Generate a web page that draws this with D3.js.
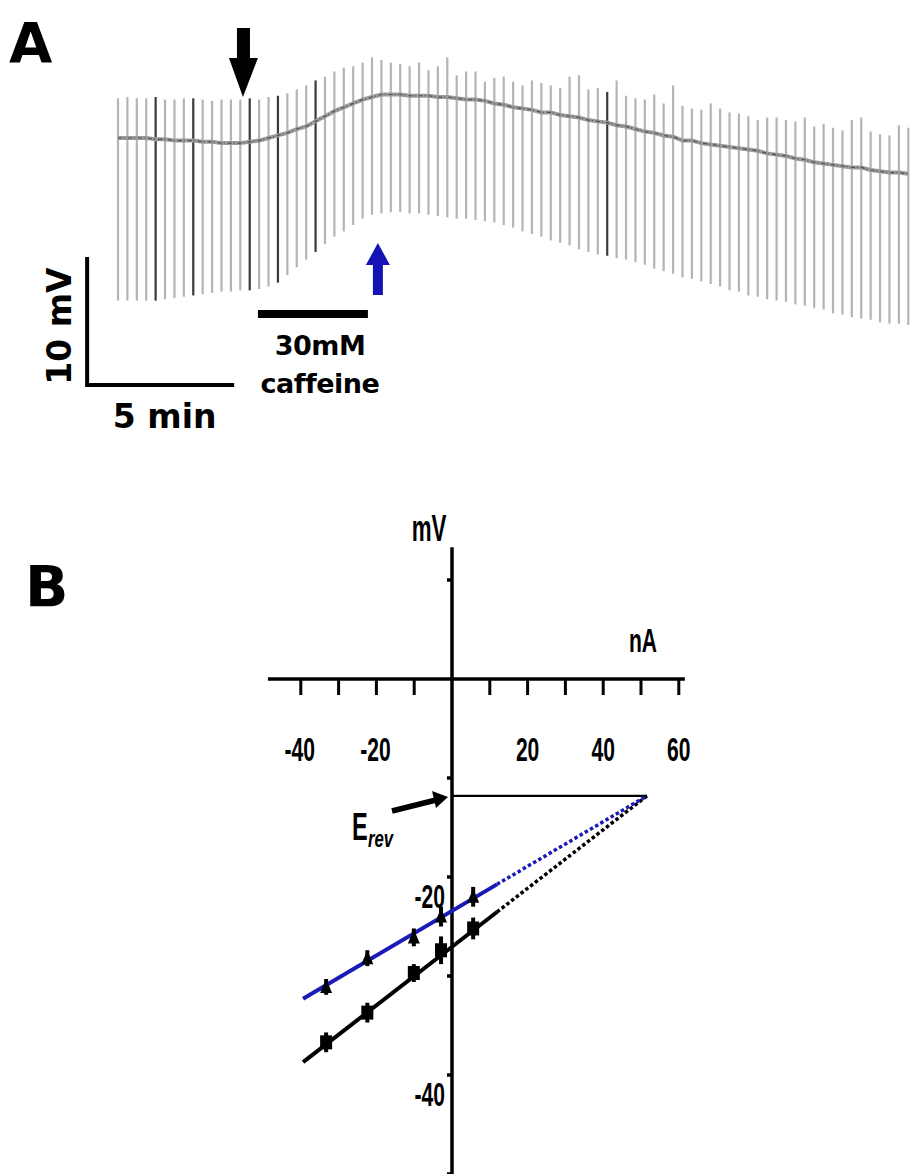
<!DOCTYPE html>
<html>
<head>
<meta charset="utf-8">
<script src="https://cdn.jsdelivr.net/npm/d3@7"></script>
<style>
  body { margin: 0; background: #fff; }
</style>
</head>
<body>
<svg id="fig" width="913" height="1174"></svg>
<script>
// ---- Panel A: membrane potential (mV, relative to start) with hyperpolarising pulses
const pulseInterval = 0.32; // minutes between current pulses
const baseline = [
  0, 0, 0, 0, -0.1, -0.1, -0.2, -0.2, -0.2, -0.3, -0.3, -0.4, -0.4, -0.4, -0.3, -0.2, 0, 0.2, 0.4, 0.7,
  0.9, 1.3, 1.7, 2.1, 2.4, 2.7, 3.0, 3.2, 3.4, 3.4, 3.4, 3.3, 3.3, 3.3, 3.2, 3.2, 3.1, 3.0, 3.0, 2.9,
  2.7, 2.6, 2.4, 2.3, 2.2, 2.0, 2.0, 1.8, 1.7, 1.6, 1.4, 1.3, 1.2, 1.0, 0.9, 0.7, 0.5, 0.4, 0.2, 0.1,
  -0.2, -0.2, -0.4, -0.5, -0.6, -0.7, -0.8, -0.9, -1.0, -1.2, -1.3, -1.4, -1.6, -1.7, -1.9, -2.0, -2.1, -2.2, -2.3, -2.3,
  -2.5, -2.6, -2.7, -2.7, -2.8
];
const pulseBottom = [
  -12.7, -12.7, -12.7, -12.7, -12.7, -12.6, -12.5, -12.4, -12.3, -12.2, -12.1, -12.0, -12.0, -11.9, -11.9, -11.8, -11.6, -11.3, -10.7, -10.1,
  -9.5, -8.9, -8.3, -7.7, -7.3, -6.8, -6.3, -6.0, -5.9, -5.8, -5.8, -5.9, -5.9, -6.0, -6.1, -6.2, -6.3, -6.3, -6.4, -6.5,
  -6.6, -6.8, -7.0, -7.3, -7.5, -7.7, -8.0, -8.2, -8.4, -8.7, -8.9, -9.1, -9.2, -9.4, -9.5, -9.7, -9.9, -10.2, -10.4, -10.6,
  -10.9, -11.0, -11.2, -11.4, -11.6, -11.9, -12.0, -12.3, -12.4, -12.6, -12.7, -12.8, -13.0, -13.1, -13.3, -13.4, -13.7, -13.8, -14.0, -14.1,
  -14.2, -14.4, -14.5, -14.5, -14.6
];
const pulseTop = [
  3.1, 3.2, 3.1, 3.1, 3.2, 3.0, 3.0, 3.1, 3.1, 3.0, 2.9, 3.0, 3.0, 3.0, 3.1, 3.0, 3.2, 3.3, 3.5, 3.8,
  4.1, 4.5, 4.8, 5.2, 5.5, 5.6, 5.9, 6.3, 6.1, 5.9, 5.8, 5.6, 5.9, 5.3, 5.6, 6.3, 4.9, 5.2, 5.2, 4.4,
  4.7, 4.8, 4.4, 4.1, 4.5, 4.3, 4.1, 3.9, 4.8, 4.9, 3.8, 3.9, 3.6, 4.5, 3.3, 3.1, 3.0, 3.4, 2.7, 4.1,
  2.5, 2.3, 2.2, 2.7, 2.3, 2.0, 1.9, 1.7, 1.4, 1.6, 1.6, 1.4, 1.3, 1.6, 0.9, 1.1, 0.8, 0.6, 1.4, 1.6,
  0.5, 0.3, 0.2, 1.0, 0.8
];
const darkPulses = [4, 8, 14, 17, 21, 52];
const caffeinePeriod = { start: 4.76, end: 8.5 };
const arrowBlack = { t: 4.25, v: 3.2 };
const arrowBlue = { t: 8.84, v: -8.2 };
const scaleBar = { t: -1.05, v: -19.3, dt: 5, dv: 10 };

// ---- Panel B: current-voltage relation
const currentNA = [-33.3, -22.4, -10.1, -2.9, 5.6];
const controlMV = [-36.7, -33.7, -29.7, -27.4, -25.2];
const controlErr = [1.0, 1.0, 0.9, 1.4, 1.1];
const caffeineMV = [-31.1, -28.2, -26.1, -24.0, -22.0];
const caffeineErr = [0.8, 0.8, 0.9, 1.0, 1.0];
const erev = { x: 51.6, y: -11.8 };
const controlFitStart = { x: -39.4, y: -38.7 };
const caffeineFitStart = { x: -39.4, y: -32.3 };
const solidEnd = 11.9; // nA, fit drawn solid up to here, dotted beyond
const xTicks = [-40, -30, -20, -10, 10, 20, 30, 40, 50, 60];
const xTickLabels = ["-40", "-20", "20", "40", "60"];
const xTickLabelVals = [-40, -20, 20, 40, 60];
const yTicks = [10, -10, -20, -30, -40, -50];
const yTickLabels = ["-20", "-40"];
const yTickLabelVals = [-20, -40];

const svg = d3.select("#fig");
const boldSans = "'DejaVu Sans', sans-serif";
const narrow = "'Liberation Sans', Arial, sans-serif";

// ================= Panel A =================
const xA = d3.scaleLinear().domain([0, 10]).range([118, 118 + 294]);
const yA = d3.scaleLinear().domain([0, 10]).range([138, 138 - 128]);
const gA = svg.append("g");

gA.append("text").attr("x", 9).attr("y", 62)
  .style("font-family", boldSans).style("font-weight", "bold").style("font-size", "56px")
  .text("A");

const pulses = baseline.map((b, i) => ({
  t: i * pulseInterval, base: b, bottom: pulseBottom[i], top: pulseTop[i],
  dark: darkPulses.includes(i)
}));

gA.selectAll("line.pulse").data(pulses.filter(d => !d.dark)).join("line")
  .attr("class", "pulse")
  .attr("x1", d => xA(d.t)).attr("x2", d => xA(d.t))
  .attr("y1", d => yA(d.top)).attr("y2", d => yA(d.bottom))
  .attr("stroke", "#b4b4b4").attr("stroke-width", 2.2);

gA.selectAll("line.dpulse").data(pulses.filter(d => d.dark)).join("line")
  .attr("class", "dpulse")
  .attr("x1", d => xA(d.t)).attr("x2", d => xA(d.t))
  .attr("y1", d => yA(d.top)).attr("y2", d => yA(d.bottom))
  .attr("stroke", "#3a3a3a").attr("stroke-width", 2.2);

const baseLine = d3.line().x(d => xA(d.t)).y(d => yA(d.base));
gA.append("path").datum(pulses)
  .attr("fill", "none").attr("stroke", "#9a9a9a").attr("stroke-width", 4)
  .attr("d", baseLine);
gA.append("path").datum(pulses)
  .attr("fill", "none").attr("stroke", "#505050").attr("stroke-width", 1.2)
  .attr("stroke-dasharray", "4,2,1,3")
  .attr("d", baseLine);

// black arrow (pointing down)
{
  const x = xA(arrowBlack.t), y = yA(arrowBlack.v);
  gA.append("path").attr("fill", "#000")
    .attr("d", `M${x},${y} L${x - 14},${y - 39} L${x - 6},${y - 39} L${x - 6},${y - 69} L${x + 7},${y - 69} L${x + 7},${y - 39} L${x + 15},${y - 39} Z`);
}
// blue arrow (pointing up)
{
  const x = xA(arrowBlue.t), y = yA(arrowBlue.v);
  gA.append("path").attr("fill", "#1414b4")
    .attr("d", `M${x},${y} L${x - 12},${y + 22} L${x - 5},${y + 22} L${x - 5},${y + 52} L${x + 5},${y + 52} L${x + 5},${y + 22} L${x + 12},${y + 22} Z`);
}

// caffeine bar
gA.append("line")
  .attr("x1", xA(caffeinePeriod.start)).attr("x2", xA(caffeinePeriod.end))
  .attr("y1", 314).attr("y2", 314)
  .attr("stroke", "#000").attr("stroke-width", 8);
gA.append("text").attr("x", 320).attr("y", 355).attr("text-anchor", "middle")
  .style("font-family", boldSans).style("font-weight", "bold").style("font-size", "27px")
  .style("letter-spacing", "-0.5px")
  .text("30mM");
gA.append("text").attr("x", 320).attr("y", 393).attr("text-anchor", "middle")
  .style("font-family", boldSans).style("font-weight", "bold").style("font-size", "27px")
  .style("letter-spacing", "-0.5px")
  .text("caffeine");

// scale bars
const sbX = xA(scaleBar.t), sbY = yA(scaleBar.v);
gA.append("path").attr("fill", "none").attr("stroke", "#000").attr("stroke-width", 4)
  .attr("d", `M${sbX},${yA(scaleBar.v + scaleBar.dv)} L${sbX},${sbY} L${xA(scaleBar.t + scaleBar.dt)},${sbY}`);
gA.append("text")
  .attr("transform", `translate(71,${(sbY + yA(scaleBar.v + scaleBar.dv)) / 2 + 5}) rotate(-90)`)
  .attr("text-anchor", "middle")
  .style("font-family", boldSans).style("font-weight", "bold").style("font-size", "33px")
  .text("10 mV");
gA.append("text").attr("x", (sbX + xA(scaleBar.t + scaleBar.dt)) / 2 + 4).attr("y", 428)
  .attr("text-anchor", "middle")
  .style("font-family", boldSans).style("font-weight", "bold").style("font-size", "33px")
  .text("5 min");

// ================= Panel B =================
const xB = d3.scaleLinear().domain([0, 10]).range([452, 489.8]);
const yB = d3.scaleLinear().domain([0, -10]).range([679, 778]);
const gB = svg.append("g");

gB.append("text").attr("x", 25).attr("y", 607)
  .style("font-family", boldSans).style("font-weight", "bold").style("font-size", "57px")
  .text("B");

function narrowText(g, x, y, txt, anchor, size, sx) {
  return g.append("text")
    .attr("transform", `translate(${x},${y}) scale(${sx || 0.62},1)`)
    .attr("text-anchor", anchor || "middle")
    .style("font-family", narrow).style("font-weight", "bold")
    .style("font-size", (size || 34) + "px")
    .text(txt);
}

// axes
gB.append("line").attr("x1", xB(-48.7)).attr("x2", xB(61.6))
  .attr("y1", yB(0)).attr("y2", yB(0)).attr("stroke", "#000").attr("stroke-width", 3.5);
gB.append("line").attr("x1", xB(0)).attr("x2", xB(0))
  .attr("y1", yB(13.3)).attr("y2", yB(-50.5)).attr("stroke", "#000").attr("stroke-width", 3.5);

gB.selectAll("line.xt").data(xTicks).join("line").attr("class", "xt")
  .attr("x1", d => xB(d)).attr("x2", d => xB(d))
  .attr("y1", yB(0)).attr("y2", yB(0) + 16)
  .attr("stroke", "#000").attr("stroke-width", 3);
xTickLabelVals.forEach((v, i) => narrowText(gB, xB(v) + (v < 0 ? -1 : 0), 761, xTickLabels[i], "middle"));

gB.selectAll("line.yt").data(yTicks).join("line").attr("class", "yt")
  .attr("x1", xB(0) - 5).attr("x2", xB(0))
  .attr("y1", d => yB(d)).attr("y2", d => yB(d))
  .attr("stroke", "#000").attr("stroke-width", 3.5);
yTickLabelVals.forEach((v, i) => narrowText(gB, xB(0) - 7, yB(v) + 31, yTickLabels[i], "end"));

narrowText(gB, 429, 541, "mV", "middle", 36);
narrowText(gB, 643, 652, "nA", "middle", 34);

// Erev marker: horizontal line + arrow + label
gB.append("line").attr("x1", xB(0)).attr("x2", xB(erev.x))
  .attr("y1", yB(erev.y)).attr("y2", yB(erev.y))
  .attr("stroke", "#000").attr("stroke-width", 2.2);
gB.append("line").attr("x1", 392).attr("y1", 811).attr("x2", 436).attr("y2", 800)
  .attr("stroke", "#000").attr("stroke-width", 5.5);
gB.append("path").attr("fill", "#000")
  .attr("d", "M448,797 L432,791 L436,808 Z");
narrowText(gB, 352, 840, "E", "start", 38, 0.62);
gB.append("text")
  .attr("transform", "translate(368,847) scale(0.7,1)")
  .style("font-family", narrow).style("font-weight", "bold").style("font-style", "italic")
  .style("font-size", "24px").text("rev");

// fit lines through the reversal potential
function fitAt(start, x) {
  return start.y + (erev.y - start.y) * (x - start.x) / (erev.x - start.x);
}
const fits = [
  { start: controlFitStart, color: "#000" },
  { start: caffeineFitStart, color: "#1a1ab8" }
];
fits.forEach(f => {
  const solid = [f.start, { x: solidEnd, y: fitAt(f.start, solidEnd) }];
  const dotted = [solid[1], erev];
  const line = d3.line().x(d => xB(d.x)).y(d => yB(d.y));
  gB.append("path").datum(solid).attr("d", line)
    .attr("fill", "none").attr("stroke", f.color).attr("stroke-width", 4);
  gB.append("path").datum(dotted).attr("d", line)
    .attr("fill", "none").attr("stroke", f.color).attr("stroke-width", 3.5)
    .attr("stroke-dasharray", "3.5,2.5");
});

// data points
const ctrl = currentNA.map((x, i) => ({ x, y: controlMV[i], e: controlErr[i] }));
const caff = currentNA.map((x, i) => ({ x, y: caffeineMV[i], e: caffeineErr[i] }));

[ctrl, caff].forEach(set => {
  gB.selectAll(null).data(set).join("line")
    .attr("x1", d => xB(d.x)).attr("x2", d => xB(d.x))
    .attr("y1", d => yB(d.y + d.e)).attr("y2", d => yB(d.y - d.e))
    .attr("stroke", "#000").attr("stroke-width", 4);
});
gB.selectAll("rect.sq").data(ctrl).join("rect").attr("class", "sq")
  .attr("x", d => xB(d.x) - 6).attr("y", d => yB(d.y) - 7)
  .attr("width", 12).attr("height", 14).attr("fill", "#000");
gB.selectAll("path.tri").data(caff).join("path").attr("class", "tri")
  .attr("transform", d => `translate(${xB(d.x)},${yB(d.y)})`)
  .attr("d", "M0,-8 L6,6 L-6,6 Z").attr("fill", "#000");
</script>
</body>
</html>
